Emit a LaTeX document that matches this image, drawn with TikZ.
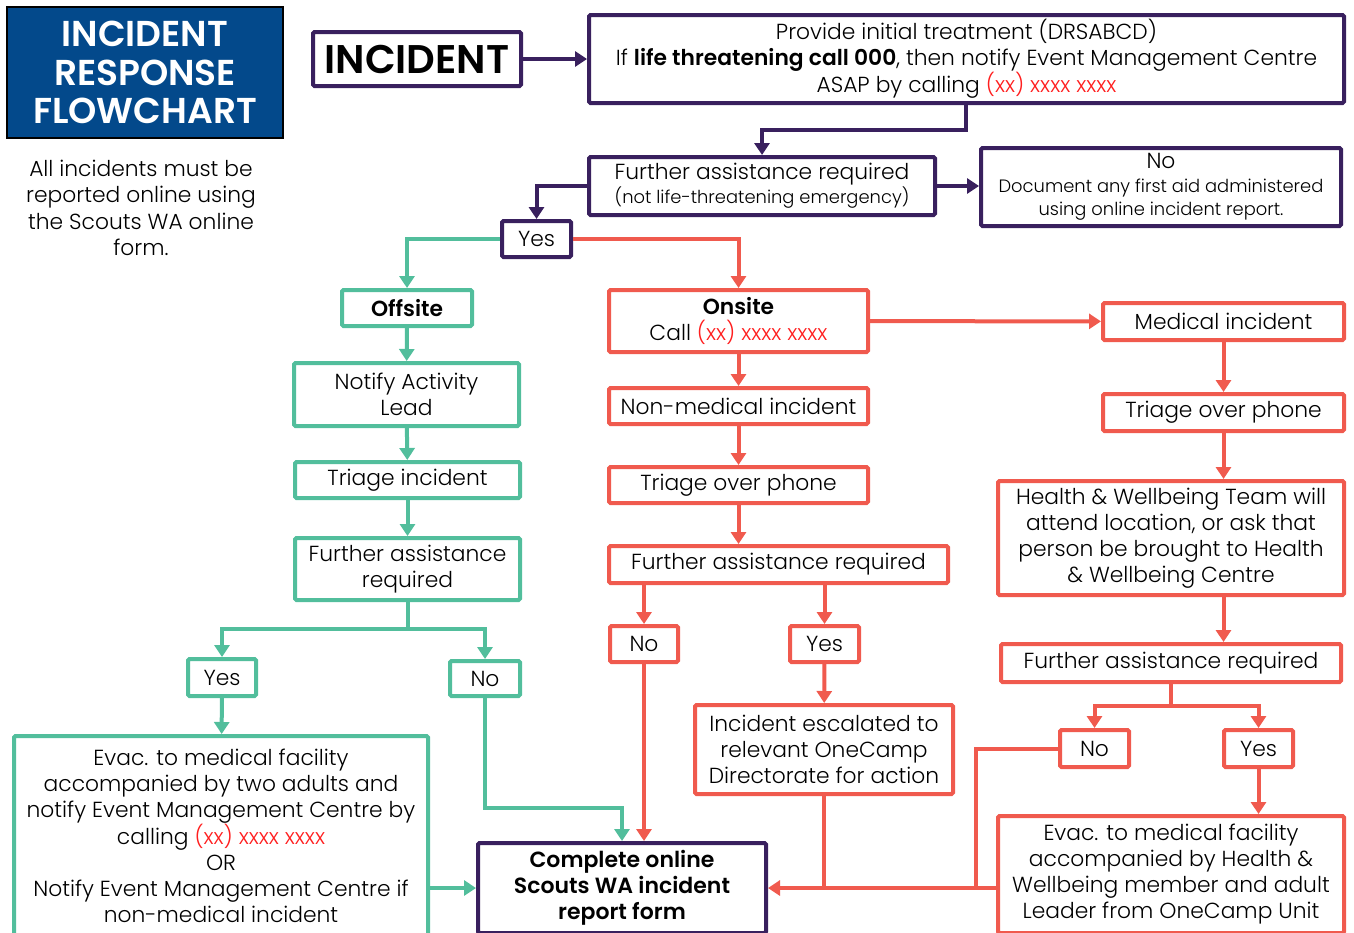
\documentclass[tikz,border=0pt]{standalone}
\usepackage{fontspec}
\setmainfont{Poppins}[UprightFont={* Light},BoldFont={* SemiBold}]
\usetikzlibrary{arrows.meta,calc}
\definecolor{scoutpurple}{RGB}{57,32,94}
\definecolor{scoutgreen}{RGB}{82,190,156}
\definecolor{scoutred}{RGB}{240,90,78}
\definecolor{titleblue}{RGB}{3,73,139}
\definecolor{phonered}{RGB}{255,30,30}
\newcommand{\phone}{\textcolor{phonered}{(xx) xxxx xxxx}}
\newcommand{\smalltxt}{\fontsize{17.9}{22}\selectfont}
\begin{document}
\begin{tikzpicture}[x=1pt,y=-1pt]
    \tikzset{
        box/.style={draw,line width=4pt,rounded corners=1.5pt,align=center,inner sep=0pt,
            fill=white,font=\fontsize{21.8}{26}\selectfont},
        pbox/.style={box,draw=scoutpurple},
        gbox/.style={box,draw=scoutgreen},
        rbox/.style={box,draw=scoutred},
        tip/.style={-{Triangle[width=15pt,length=12pt]}},
        pline/.style={line width=4pt,scoutpurple,tip},
        gline/.style={line width=4pt,scoutgreen,tip},
        rline/.style={line width=4pt,scoutred,tip},
        rseg/.style={line width=4pt,scoutred},
        gseg/.style={line width=4pt,scoutgreen}
    }
    \useasboundingbox (0,0) rectangle (1354,932);
    % title and note
    \node[draw=black,line width=1.2pt,fill=titleblue,text=white,align=center,
        minimum width=276,minimum height=131,font=\fontsize{36}{38.5}\selectfont\bfseries]
        (title) at (145,72.5) {INCIDENT\\RESPONSE\\FLOWCHART};
    \node[align=center,font=\fontsize{21.8}{26.3}\selectfont] (note) at (141,208)
        {All incidents must be\\reported online using\\the Scouts WA online\\form.};
    % first steps
    \node[pbox,minimum width=208,minimum height=54,font=\fontsize{40}{40}\selectfont\bfseries]
        (incident) at (417,59) {INCIDENT};
    \node[pbox,minimum width=755,minimum height=88] (treat) at (966.5,59)
        {Provide initial treatment (DRSABCD)\\If \textbf{life threatening call 000}, then notify Event Management Centre\\ASAP by calling \phone};
    \node[pbox,minimum width=346,minimum height=58] (furthP) at (762,186)
        {Further assistance required\\[-2pt]\smalltxt (not life-threatening emergency)};
    \node[pbox,minimum width=360,minimum height=78] (docno) at (1161,187)
        {No\\[-2pt]\smalltxt Document any first aid administered\\[-3pt]\smalltxt using online incident report.};
    \node[pbox,minimum width=69,minimum height=36] (yesP) at (536.5,239) {Yes};
    % offsite
    \node[gbox,minimum width=130,minimum height=36] (offsite) at (407,308) {\textbf{Offsite}};
    \node[gbox,minimum width=225,minimum height=63] (notify) at (406.5,394.5) {Notify Activity\\Lead};
    \node[gbox,minimum width=225,minimum height=36] (triageinc) at (407.5,480) {Triage incident};
    \node[gbox,minimum width=225,minimum height=62] (furthG) at (407.5,569) {Further assistance\\required};
    \node[gbox,minimum width=68,minimum height=37] (yesG) at (222,677.5) {Yes};
    \node[gbox,minimum width=70,minimum height=35] (noG) at (485,678.5) {No};
    \node[gbox,minimum width=414,minimum height=200] (evacG) at (221,836)
        {Evac. to medical facility\\accompanied by two adults and\\notify Event Management Centre by\\calling \phone\\OR\\Notify Event Management Centre if\\non-medical incident};
    \node[pbox,minimum width=288,minimum height=90,font=\fontsize{22}{26}\selectfont\bfseries]
        (complete) at (622,888) {Complete online\\Scouts WA incident\\report form};
    % onsite
    \node[rbox,minimum width=259,minimum height=62] (onsite) at (738.5,321) {\textbf{Onsite}\\Call \phone};
    \node[rbox,minimum width=259,minimum height=36] (nonmed) at (738.5,406) {Non-medical incident};
    \node[rbox,minimum width=259,minimum height=36] (triageR) at (738.5,485) {Triage over phone};
    \node[rbox,minimum width=339,minimum height=37] (furthR) at (778.5,564.5) {Further assistance required};
    \node[rbox,minimum width=68,minimum height=36] (noR) at (644,644) {No};
    \node[rbox,minimum width=69,minimum height=36] (yesR) at (824.5,644) {Yes};
    \node[rbox,minimum width=258,minimum height=89] (escal) at (824,749.5)
        {Incident escalated to\\relevant OneCamp\\Directorate for action};
    \node[rbox,minimum width=241,minimum height=37] (medical) at (1223.5,321.5) {Medical incident};
    \node[rbox,minimum width=241,minimum height=37] (triageM) at (1223.5,412.5) {Triage over phone};
    \node[rbox,minimum width=346,minimum height=114] (health) at (1171,538)
        {Health \& Wellbeing Team will\\attend location, or ask that\\person be brought to Health\\\& Wellbeing Centre};
    \node[rbox,minimum width=340,minimum height=38] (furthM) at (1171,663) {Further assistance required};
    \node[rbox,minimum width=69,minimum height=37] (noM) at (1094.5,748.5) {No};
    \node[rbox,minimum width=69,minimum height=37] (yesM) at (1258.5,748.5) {Yes};
    \node[rbox,minimum width=346,minimum height=117] (evacR) at (1171,874.5)
        {Evac. to medical facility\\accompanied by Health \&\\Wellbeing member and adult\\Leader from OneCamp Unit};
    % purple connectors
    \draw[pline] (incident) -- (treat);
    \draw[pline] ([xshift=-0.5pt]treat.south) -- ++(0,25) -| (furthP.north);
    \draw[pline] (furthP.east) -- (furthP.east -| docno.west);
    \draw[pline] (furthP.west) -| (yesP.north);
    % green connectors
    \draw[gline] (yesP.west) -| (offsite.north);
    \draw[gline] (offsite) -- (notify);
    \draw[gline] (notify) -- (triageinc);
    \draw[gline] (triageinc) -- (furthG);
    \draw[gseg] (furthG.south) -- ++(0,27) coordinate (gsplit);
    \draw[gline] (gsplit) -| (yesG.north);
    \draw[gline] (gsplit) -| (noG.north);
    \draw[gline] (yesG) -- (evacG);
    \draw[gline] (noG.south) -- ++(0,110) -| (complete.north);
    \draw[gline] (evacG.east |- complete.west) -- (complete.west);
    % red connectors
    \draw[rline] (yesP.east) -| (onsite.north);
    \draw[rline] (onsite) -- (medical);
    \draw[rline] (onsite) -- (nonmed);
    \draw[rline] (nonmed) -- (triageR);
    \draw[rline] (triageR.south) -- (triageR.south |- furthR.north);
    \draw[rline] (noR.north |- furthR.south) -- (noR.north);
    \draw[rline] (yesR.north |- furthR.south) -- (yesR.north);
    \draw[rline] (noR.south) -- (noR.south |- complete.north);
    \draw[rline] (yesR) -- (escal);
    \draw[rline] (medical) -- (triageM);
    \draw[rline] (triageM.south) -- (triageM.south |- health.north);
    \draw[rline] (triageM.south |- health.south) -- (triageM.south |- furthM.north);
    \draw[rseg] (furthM.south) -- ++(0,22) coordinate (msplit);
    \draw[rline] (msplit) -| (noM.north);
    \draw[rline] (msplit) -| (yesM.north);
    \draw[rline] (yesM.south) -- (yesM.south |- evacR.north);
    \draw[rline] (evacR.west |- complete.east) -- (complete.east);
    \draw[rseg] (escal.south) -- (escal.south |- complete.east);
    \draw[rseg] (noM.west) -| ($(evacR.west |- complete.east)+(-20,0)$);
\end{tikzpicture}
\end{document}
